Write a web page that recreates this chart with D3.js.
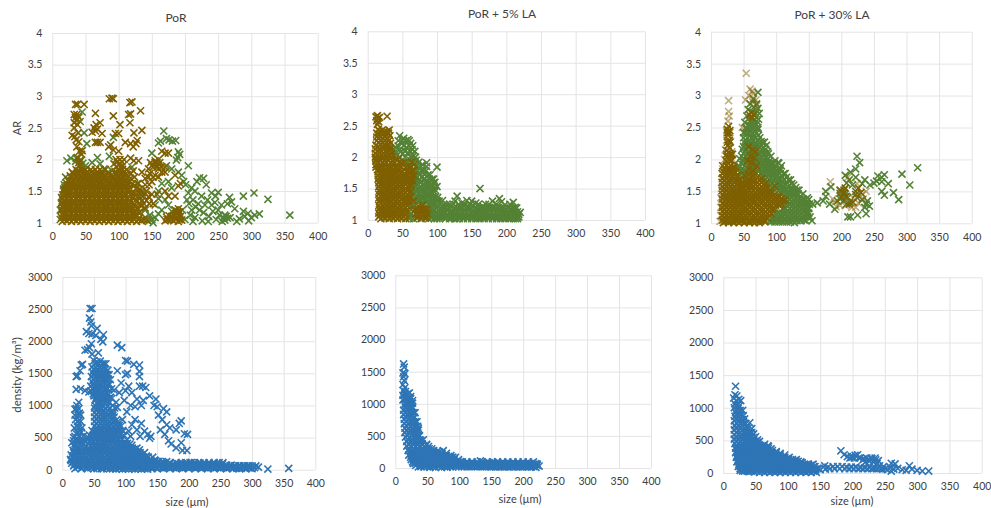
<!DOCTYPE html>
<html>
<head>
<meta charset="utf-8">
<script src="https://cdn.jsdelivr.net/npm/d3@7"></script>
<style>
  html, body { margin: 0; background: #fff; }
  text { font-family: Lato, "Open Sans", sans-serif; fill: #404040; }
</style>
</head>
<body>
<div id="chart"></div>
<script>
// tick labels
const sizeTicks = [0, 50, 100, 150, 200, 250, 300, 350, 400];
const arTicks = [1, 1.5, 2, 2.5, 3, 3.5, 4];
const densityTicks = [0, 500, 1000, 1500, 2000, 2500, 3000];
const titles = ['PoR', 'PoR + 5% LA', 'PoR + 30% LA'];

// top row: [size, AR]
const porGreen = [
  [168,2.45],[172,2.33],[176,2.31],[181,2.29],[186,2.3],[160,2.26],[163,2.29],[190,2.12],[192,2.08],[189,2.03],[187,1.99],[205,1.9],[190,1.8],[195,1.75],
  [198,1.65],[201,1.6],[222,1.71],[228,1.7],[218,1.65],[232,1.6],[210,1.55],[215,1.5],[205,1.47],[240,1.47],[250,1.48],[246,1.42],[267,1.4],[270,1.33],[264,1.3],
  [288,1.42],[304,1.47],[325,1.37],[358,1.12],[260,1.12],[262,1.1],[258,1.08],[264,1.07],[260,1.04],[256,1.02],[240,1.28],[234,1.36],[225,1.42],[212,1.36],[203,1.36],
  [206,1.3],[216,1.25],[222,1.2],[228,1.16],[208,1.12],[215,1.08],[200,1.05],[196,1.2],[236,1.1],[242,1.18],[250,1.2],[255,1.28],[247,1.05],[275,1.22],[282,1.06],[290,1.1],
  [288,1.18],[295,1.15],[300,1.08],[305,1.12],[312,1.14],[296,1.03],[278,1.02],[226,1.03],[235,1.02],[150,2.1],[158,1.95],[172,1.9],[180,1.85],[175,1.65],[165,1.62],
  [180,1.55],[160,1.5],[155,1.28],[165,1.2],[180,1.18],[185,1.2],[150,1.05],[152,1.0],[147,1.12],[140,1.2],[135,1.05],[128,1.62],[132,1.4],
  [22,1.98],[28,2.02],[35,1.97],[46,1.94],[44,1.88],[48,1.84],[40,1.82],[50,1.9],[43,2.0],[60,1.95],[68,2.03],[72,1.93],[78,1.85],[84,1.8],[90,1.82],[86,2.05],[92,2.35],[48,2.42],[52,2.25],
  [45,2.75],[42,2.6],[14,1.4],[12,1.2],[12,1.05],[14,1.3],[20,1.72],[18,1.6],[17,1.53],[36,2.02],[120,1.88],
  [145,1.02],[140,1.08],[155,1.08],[160,1.14],[170,1.36],[160,1.38],[175,1.28],[210,1.2],[220,1.3],[230,1.28],[245,1.32],[252,1.12],[268,1.08],[212,1.02]
];
const porBrown = [
  [15,1.02],[22,1.03],[29,1.02],[36,1.03],[43,1.02],[50,1.03],[57,1.02],[64,1.03],[71,1.02],[78,1.03],[85,1.02],[92,1.03],[99,1.02],[106,1.03],[113,1.02],[120,1.03],[127,1.02],[134,1.03],[143,1.04],[170,1.03],[176,1.05],[183,1.03],[190,1.02],[195,1.04],
  [14,1.08],[19,1.09],[26,1.08],[33,1.09],[40,1.08],[47,1.09],[54,1.08],[61,1.09],[68,1.08],[75,1.09],[82,1.08],[89,1.09],[96,1.08],[103,1.09],[110,1.08],[117,1.09],[124,1.1],[172,1.09],[180,1.1],[187,1.08],[193,1.1],
  [15,1.14],[22,1.15],[29,1.14],[36,1.15],[43,1.14],[50,1.15],[57,1.14],[64,1.15],[71,1.14],[78,1.15],[85,1.14],[92,1.15],[99,1.14],[106,1.15],[113,1.14],[120,1.15],[130,1.16],[187,1.14],[192,1.17],
  [14,1.2],[19,1.21],[26,1.2],[33,1.21],[40,1.2],[47,1.21],[54,1.2],[61,1.21],[68,1.2],[75,1.21],[82,1.2],[89,1.21],[96,1.2],[103,1.21],[110,1.2],[117,1.22],[190,1.22],[185,1.2],
  [15,1.26],[22,1.27],[29,1.26],[36,1.27],[43,1.26],[50,1.27],[57,1.26],[64,1.27],[71,1.26],[78,1.27],[85,1.26],[92,1.27],[99,1.26],[106,1.27],[113,1.28],[125,1.25],[135,1.27],
  [14,1.32],[19,1.33],[26,1.32],[33,1.33],[40,1.32],[47,1.33],[54,1.32],[61,1.33],[68,1.32],[75,1.33],[82,1.32],[89,1.33],[96,1.32],[103,1.33],[110,1.32],[118,1.33],[128,1.34],[142,1.35],
  [15,1.38],[22,1.39],[29,1.38],[36,1.39],[43,1.38],[50,1.39],[57,1.38],[64,1.39],[71,1.38],[78,1.39],[85,1.38],[92,1.39],[99,1.38],[106,1.39],[113,1.38],[122,1.4],[137,1.42],[175,1.42],[185,1.42],
  [16,1.44],[19,1.45],[26,1.44],[33,1.45],[40,1.44],[47,1.45],[54,1.44],[61,1.45],[68,1.44],[75,1.45],[82,1.44],[89,1.45],[96,1.44],[103,1.45],[110,1.44],[120,1.46],[130,1.48],[142,1.5],[170,1.5],
  [17,1.5],[22,1.51],[29,1.5],[36,1.51],[43,1.5],[50,1.51],[57,1.5],[64,1.51],[71,1.5],[78,1.51],[85,1.5],[92,1.51],[99,1.5],[106,1.51],[113,1.5],[127,1.55],[190,1.58],[193,1.62],
  [19,1.56],[26,1.57],[33,1.56],[40,1.57],[47,1.56],[54,1.57],[61,1.56],[68,1.57],[75,1.56],[82,1.57],[89,1.56],[96,1.57],[103,1.56],[110,1.57],[120,1.6],
  [22,1.62],[29,1.63],[36,1.62],[43,1.63],[50,1.62],[57,1.63],[64,1.62],[71,1.63],[78,1.62],[85,1.63],[92,1.62],[99,1.63],[106,1.62],[113,1.63],
  [24,1.68],[33,1.69],[40,1.68],[47,1.69],[54,1.68],[61,1.69],[68,1.68],[75,1.69],[82,1.68],[89,1.69],[96,1.68],[103,1.69],[110,1.68],[118,1.7],
  [27,1.74],[36,1.75],[43,1.74],[50,1.75],[57,1.74],[64,1.75],[71,1.74],[78,1.75],[92,1.74],[99,1.75],[106,1.74],[113,1.76],[124,1.72],
  [30,1.8],[38,1.81],[52,1.8],[60,1.81],[68,1.8],[75,1.8],[95,1.81],[102,1.82],[108,1.8],[122,1.82],
  [97,1.88],[101,1.92],[105,1.96],[98,1.96],[106,1.9],[93,1.93],[103,1.88],
  [40,1.9],[42,1.97],[38,2.03],[44,2.08],[41,2.13],[37,2.2],[45,2.14],[40,2.28],[36,2.31],[34,2.36],[30,2.38],[39,2.42],[33,2.5],[38,2.55],[33,2.58],[36,2.62],[40,2.67],[35,2.66],[33,2.71],[37,2.71],
  [35,2.87],[38,2.87],[48,2.87],[86,2.96],[90,2.97],[92,2.96],[117,2.9],[120,2.91],[65,2.73],[115,2.71],[118,2.72],[133,2.77],[92,2.69],[117,2.58],[72,2.58],[66,2.55],[63,2.5],[68,2.48],[65,2.45],[102,2.55],[135,2.46],[60,2.43],[123,2.42],[75,2.41],[95,2.41],[100,2.41],[128,2.3],
  [65,2.27],[68,2.27],[72,2.27],[88,2.23],[85,2.2],[110,2.27],[118,2.25],[122,2.2],[126,2.25],[92,2.15],[100,2.13],[118,2.02],[123,1.98],[130,1.98],[170,2.1],[175,2.1],[165,2.13],[155,1.98],[150,1.9],[145,1.85],[160,1.85],[165,1.8],[170,1.8],[155,1.75],[135,1.8],[140,1.7],[147,1.78],[158,1.9],[185,1.75],[150,1.65],[146,1.4],[130,1.62],[135,1.5]
];
// dense parts, one row per level: [AR, size, size, ...]
const porBrownRows = [
  [1.05,18,25,32,39,46,53,60,67,74,81,88,95,102,109,116,123,130,138,173,180,186,192],
  [1.11,17,24,31,38,45,52,59,66,73,80,87,94,101,108,115,122,128,176,183,190],
  [1.17,18,25,32,39,46,53,60,67,74,81,88,95,102,109,116,124,132,189],
  [1.23,17,24,31,38,45,52,59,66,73,80,87,94,101,108,115,122,128,140],
  [1.29,18,25,32,39,46,53,60,67,74,81,88,95,102,109,116,124,133],
  [1.35,17,24,31,38,45,52,59,66,73,80,87,94,101,108,115,125,135],
  [1.41,18,25,32,39,46,53,60,67,74,81,88,95,102,109,116,128,145],
  [1.47,20,24,31,38,45,52,59,66,73,80,87,94,101,108,115,124,136],
  [1.53,19,25,32,39,46,53,60,67,74,81,88,95,102,109,116,132],
  [1.59,22,30,37,44,51,58,65,72,79,86,93,100,107,114,124],
  [1.65,25,32,39,46,53,60,67,74,81,88,95,102,109,116],
  [1.71,29,36,43,50,57,64,71,78,85,92,99,106,113],
  [1.77,32,40,47,55,62,69,76,84,96,103,110,118],
  [1.84,36,44,50,58,65,72,80,100,106,112],
  [1.95,40,155,162,148],[1.88,152,165,158,170],[2.0,96,102,108,160],
  [1.3,138,146,152],[1.45,150,158],[1.6,140,146],[1.72,145,152,160]
];
const la5Green = [
  [46,2.34],[52,2.3],[58,2.28],[62,2.22],[50,2.22],[40,2.16],[46,2.12],[56,2.15],[64,2.12],[36,2.1],[42,2.03],[50,2.05],[58,2.07],[66,2.02],[62,1.95],[70,1.95],[55,1.92],
  [85,1.91],[79,1.88],[100,1.84],[73,1.85],[80,1.78],[87,1.72],[74,1.75],[67,1.8],[93,1.65],[97,1.6],[100,1.53],[92,1.55],[85,1.62],[78,1.68],[71,1.68],[66,1.6],[72,1.58],[80,1.56],[87,1.52],[95,1.46],[90,1.42],
  [66,1.5],[72,1.48],[79,1.46],[85,1.42],[65,1.4],[71,1.38],[78,1.36],[84,1.33],[91,1.34],[97,1.36],[103,1.3],[66,1.3],[72,1.28],[88,1.26],[95,1.26],[101,1.22],[108,1.2],[65,1.2],[90,1.18],[96,1.15],[102,1.15],[108,1.13],[90,1.1],[97,1.08],[104,1.06],[110,1.05],[92,1.03],[100,1.02],[60,1.05],[58,1.12],
  [114,1.25],[120,1.22],[126,1.3],[129,1.38],[136,1.27],[143,1.31],[150,1.3],[156,1.27],[162,1.5],[166,1.22],[175,1.25],[180,1.3],[190,1.34],[193,1.29],[198,1.24],[210,1.28],[213,1.2],[220,1.12],[218,1.05],
  [115,1.15],[121,1.13],[127,1.17],[133,1.2],[139,1.22],[146,1.2],[152,1.22],[158,1.18],[164,1.15],[170,1.18],[176,1.2],[182,1.2],[188,1.2],[194,1.18],[200,1.16],[206,1.18],[212,1.13],
  [113,1.07],[119,1.05],[125,1.08],[131,1.12],[137,1.13],[143,1.12],[149,1.13],[155,1.11],[161,1.08],[167,1.1],[173,1.12],[179,1.12],[185,1.12],[191,1.11],[197,1.1],[203,1.11],[209,1.08],[215,1.07],
  [121,1.03],[128,1.02],[135,1.05],[141,1.05],[147,1.06],[153,1.04],[159,1.03],[165,1.04],[171,1.05],[177,1.05],[183,1.05],[189,1.04],[195,1.03],[201,1.05],[207,1.03],[213,1.02]
];
const la5GreenRows = [
  [2.26,44,50,55,60],[2.18,44,52,60,65],[2.09,40,48,54,62,68],[2.0,46,54,62,69],[1.92,58,66,74],[1.85,62,69,77,85],[1.78,64,72,77,84],
  [1.72,68,75,82,90],[1.65,63,69,75,82,89,95],[1.59,62,69,76,83,89,95],[1.53,62,69,76,83,90,96],[1.47,62,69,76,83,90,98],[1.42,62,68,75,82,88,94],
  [1.36,62,68,74,81,87,94,101],[1.31,60,66,75,81,87,94,100,108],[1.25,60,66,82,92,98,104,110,118,124,131,140,148,160,170,186,205],
  [1.19,60,84,93,99,105,112,118,124,130,136,142,149,155,161,167,173,179,185,191,197,203,209,215],
  [1.13,60,86,93,99,105,111,118,124,130,136,142,148,154,160,166,172,178,184,190,196,202,208,216],
  [1.09,62,88,94,101,107,116,122,128,134,140,146,152,158,164,170,176,182,188,194,200,206,212,218],
  [1.05,86,93,100,107,114,125,131,138,144,150,156,162,168,174,180,186,192,198,204,210,216],
  [1.02,60,66,88,96,104,112,118,125,132,138,144,150,156,162,168,174,180,186,192,198,204,210,216]
];
const la5Brown = [
  [19,1.02],[25,1.03],[31,1.02],[37,1.03],[43,1.02],[49,1.03],[55,1.02],[71,1.03],[77,1.02],[83,1.03],
  [18,1.08],[24,1.09],[30,1.08],[36,1.09],[42,1.08],[48,1.09],[54,1.08],[69,1.1],[75,1.09],[81,1.08],[86,1.1],
  [19,1.14],[25,1.15],[31,1.14],[37,1.15],[43,1.14],[49,1.15],[55,1.14],[68,1.16],[74,1.16],[80,1.17],[85,1.16],
  [18,1.2],[24,1.21],[30,1.2],[36,1.21],[42,1.2],[48,1.21],[54,1.2],[73,1.22],[79,1.24],
  [19,1.26],[25,1.27],[31,1.26],[37,1.27],[43,1.26],[49,1.27],[55,1.28],[66,1.3],
  [18,1.32],[24,1.33],[30,1.32],[36,1.33],[42,1.32],[48,1.33],[54,1.32],[62,1.36],
  [19,1.38],[25,1.39],[31,1.38],[37,1.39],[43,1.38],[49,1.39],[55,1.38],
  [18,1.44],[24,1.45],[30,1.44],[36,1.45],[42,1.44],[48,1.45],[54,1.44],[62,1.45],
  [19,1.5],[25,1.51],[31,1.5],[37,1.51],[43,1.5],[49,1.51],[55,1.5],[63,1.55],
  [18,1.56],[24,1.57],[30,1.56],[36,1.57],[42,1.56],[48,1.57],[54,1.58],[60,1.62],[65,1.62],
  [17,1.62],[25,1.63],[31,1.62],[37,1.63],[43,1.62],[49,1.63],[54,1.66],[61,1.68],[67,1.7],
  [17,1.68],[23,1.69],[29,1.68],[35,1.69],[41,1.68],[47,1.69],[54,1.72],[60,1.76],[66,1.78],
  [17,1.74],[23,1.75],[29,1.74],[35,1.75],[41,1.74],[47,1.75],[53,1.8],[60,1.84],[67,1.88],[63,1.92],
  [14,1.8],[20,1.81],[26,1.8],[32,1.81],[38,1.8],[44,1.81],
  [12,1.88],[18,1.87],[24,1.88],[30,1.87],[36,1.88],[42,1.87],[48,1.9],
  [12,1.94],[18,1.95],[24,1.94],[30,1.95],[36,1.94],[44,1.96],
  [11,2.0],[17,2.01],[23,2.0],[29,2.01],[35,2.0],
  [11,2.06],[17,2.07],[23,2.06],[29,2.07],[35,2.06],
  [11,2.13],[17,2.12],[23,2.13],[29,2.12],[33,2.14],
  [12,2.19],[18,2.2],[24,2.19],[30,2.2],[33,2.22],
  [13,2.26],[19,2.27],[25,2.26],[31,2.27],
  [13,2.32],[19,2.33],[25,2.32],[32,2.34],
  [13,2.38],[19,2.38],[24,2.39],[30,2.38],
  [15,2.44],[21,2.43],[31,2.43],[28,2.41],
  [14,2.52],[13,2.58],[16,2.56],[12,2.64],[15,2.62],[17,2.63],[28,2.65],[14,2.66]
];
const la5BrownRows = [
  [1.05,16,22,28,34,40,46,52,72,78,84],[1.11,16,22,28,34,40,46,52,71,77,83],[1.17,17,22,28,34,40,46,52,71,77,83],[1.23,16,22,28,34,40,46,52,58],
  [1.29,17,22,28,34,40,46,52,59],[1.35,16,22,28,34,40,46,52,58],[1.41,16,22,28,34,40,46,52,58],[1.47,17,22,28,34,40,46,52,58],
  [1.53,16,22,28,34,40,46,52,58],[1.59,16,22,28,34,40,46,52,57],[1.65,15,21,27,33,39,45,51,58,64],[1.71,15,21,27,33,39,45,51,57,63],
  [1.77,15,20,26,32,38,44,50,57,63],[1.84,12,17,23,29,35,41,47,55],[1.91,15,21,27,33,39,45,52],[1.97,12,15,21,27,33,40],[2.03,14,20,26,32],
  [2.1,14,20,26,32],[2.16,15,21,27,31],[2.23,16,22,28],[2.3,16,22,28],[2.36,16,22,27],[2.41,17,24]
];
const la30Green = [
  [72,3.05],[65,2.95],[70,2.87],[60,2.87],[66,2.82],[72,2.8],[57,2.78],[63,2.75],[69,2.72],[74,2.72],[55,2.68],[60,2.66],[67,2.62],[73,2.63],[52,2.58],[58,2.55],[64,2.52],[70,2.55],[55,2.47],[61,2.45],[67,2.45],[72,2.47],[50,2.42],[60,2.38],[66,2.37],[73,2.38],
  [53,2.3],[59,2.28],[65,2.3],[71,2.3],[77,2.28],[82,2.27],[85,2.22],[50,2.2],[56,2.2],[62,2.22],[68,2.22],[74,2.2],[80,2.18],[87,2.12],[52,2.12],[58,2.12],[64,2.13],[70,2.13],[76,2.12],[82,2.1],[92,2.05],
  [47,2.05],[54,2.05],[60,2.05],[66,2.05],[72,2.05],[78,2.03],[84,2.02],[90,1.98],[98,1.98],[103,1.95],[50,1.97],[56,1.98],[62,1.97],[68,1.97],[74,1.97],[80,1.95],[86,1.95],[92,1.92],[98,1.9],[108,1.9],
  [42,1.9],[52,1.9],[58,1.9],[64,1.9],[70,1.9],[76,1.89],[82,1.88],[88,1.87],[94,1.85],[100,1.83],[106,1.83],[112,1.78],[46,1.82],[54,1.82],[60,1.83],[66,1.82],[72,1.82],[78,1.8],[84,1.8],[90,1.78],[96,1.77],[102,1.76],[108,1.74],[116,1.72],[122,1.68],
  [48,1.72],[80,1.73],[86,1.72],[92,1.71],[98,1.7],[104,1.68],[110,1.66],[116,1.64],[124,1.62],[130,1.56],[88,1.64],[94,1.63],[100,1.62],[106,1.6],[112,1.58],[118,1.57],[124,1.54],[132,1.52],
  [88,1.56],[94,1.56],[100,1.54],[106,1.53],[112,1.5],[118,1.48],[124,1.47],[130,1.46],[112,1.43],[118,1.41],[124,1.4],[130,1.39],[136,1.38],[142,1.38],[148,1.4],[146,1.33],
  [118,1.34],[124,1.33],[130,1.32],[136,1.31],[142,1.31],[148,1.29],[118,1.27],[124,1.26],[130,1.25],[136,1.25],[142,1.24],[147,1.24],[112,1.22],[118,1.2],[124,1.2],[130,1.19],[136,1.18],[142,1.18],[147,1.17],
  [100,1.14],[106,1.13],[112,1.14],[118,1.13],[124,1.13],[130,1.12],[136,1.12],[142,1.11],[148,1.1],[95,1.07],[101,1.06],[107,1.07],[113,1.06],[119,1.07],[125,1.06],[131,1.06],[137,1.05],[143,1.05],[155,1.04],[92,1.02],[98,1.02],[104,1.02],[110,1.02],[116,1.02],[122,1.02],[128,1.01],
  [156,1.3],[163,1.32],[172,1.35],[176,1.42],[176,1.5],[184,1.57],[182,1.3],[190,1.22],[194,1.35],[198,1.47],[204,1.52],[200,1.42],[206,1.42],[203,1.35],[208,1.3],[210,1.1],[214,1.1],[213,1.33],[208,1.63],[206,1.75],[214,1.8],[212,1.68],[222,1.72],
  [222,1.85],[224,2.05],[228,1.95],[217,1.6],[222,1.5],[232,1.62],[236,1.68],[224,1.4],[232,1.37],[238,1.3],[240,1.35],[236,1.25],[225,1.13],[238,1.15],[244,1.6],[250,1.63],[254,1.66],[256,1.74],[262,1.72],[266,1.76],[262,1.65],[272,1.62],[262,1.5],[266,1.44],[280,1.48],[288,1.37],
  [293,1.77],[305,1.6],[317,1.87],[243,1.27],[200,1.5],[205,1.45],[198,1.38],[210,1.4]
];
const la30GreenRows = [
  [2.6,60,64,70],[2.5,54,60,66,72],[2.41,53,58,64,70],[2.34,50,56,62,68,75],[2.26,52,56,62,68,74,79],[2.16,48,54,60,66,72,78,84],[2.09,50,56,62,68,74,80,88],[2.01,44,50,57,63,69,75,81,87],
  [1.94,46,55,61,67,73,79,85,91,97,104],[1.86,42,48,56,62,68,74,80,86,92,98,106],[1.78,46,52,58,64,70,76,82,88,94,100,106,114],[1.68,46,83,89,95,101,107,113,119],
  [1.6,46,86,91,97,103,109,115,121,127],[1.52,92,98,104,110,116,122,128,135],[1.46,90,108,115,121,127,134,141],[1.37,110,115,121,127,133,139,145,150],[1.3,112,121,127,133,139,145,151],
  [1.23,98,110,115,121,127,133,139,145,150],[1.16,98,104,110,115,121,127,133,139,145,150],[1.1,90,97,103,109,115,121,127,133,139,145,152],[1.04,84,90,96,102,108,114,120,126,132,138,146]
];
const la30BrownFaint = [
  [27,2.92],[27,2.75],[28,2.68],[26,2.6],[24,2.45],[29,2.42],[24,2.3],[30,2.28],[22,2.15],[32,2.12],[21,2.0],[33,2.0],[18,1.85],[35,1.9],[17,1.7],[16,1.55],[15,1.4],[15,1.25],[15,1.12],[14,1.03],
  [54,3.35],[60,3.1],[63,3.07],[58,3.0],[65,3.03],[69,2.93],[53,2.93],[70,2.85],[64,2.9],[48,2.5],
  [183,1.65],[192,1.26],[187,1.38],[210,1.72],[216,1.25],[222,1.25],[238,1.5],[232,1.45],[224,1.62],[190,1.33],[198,1.28],[218,1.4],[226,1.32],[234,1.38],[206,1.28]
];
const la30BrownCore = [
  [27,2.52],[25,2.47],[29,2.45],[26,2.38],[28,2.3],[26,2.22],[29,2.18],[24,2.14],[27,2.1],[31,2.08],[25,2.04],[28,2.0],[62,2.73],[65,2.7],[59,2.7],[63,2.65],[58,2.2],[64,2.15],[68,2.12],[60,2.05],[66,2.03],[56,1.98],[62,1.95],[70,1.9],[58,1.85],[65,1.82],
  [18,1.9],[24,1.91],[30,1.9],[36,1.88],[22,1.84],[28,1.84],[34,1.83],[17,1.78],[23,1.77],[29,1.78],[35,1.77],[41,1.75],[18,1.71],[24,1.71],[30,1.7],[36,1.71],[42,1.68],[52,1.75],[58,1.76],[64,1.75],[72,1.72],[78,1.7],
  [17,1.64],[23,1.64],[29,1.65],[35,1.64],[41,1.63],[47,1.64],[53,1.66],[59,1.67],[65,1.66],[71,1.65],[77,1.64],[84,1.63],[18,1.58],[24,1.57],[30,1.58],[36,1.57],[42,1.58],[48,1.56],[54,1.59],[60,1.59],[66,1.58],[72,1.58],[78,1.57],[84,1.56],[98,1.58],
  [17,1.51],[23,1.51],[29,1.51],[35,1.5],[41,1.51],[47,1.5],[53,1.52],[59,1.52],[65,1.51],[71,1.51],[77,1.5],[83,1.5],[89,1.48],[18,1.45],[24,1.44],[30,1.45],[36,1.44],[42,1.45],[48,1.44],[54,1.45],[60,1.45],[66,1.44],[72,1.44],[78,1.44],[84,1.44],[90,1.44],[96,1.43],[102,1.42],
  [17,1.38],[23,1.38],[29,1.38],[35,1.37],[41,1.38],[47,1.37],[53,1.38],[59,1.38],[65,1.37],[71,1.38],[77,1.37],[83,1.38],[89,1.37],[95,1.37],[101,1.37],[108,1.38],[114,1.36],[18,1.32],[24,1.31],[30,1.32],[36,1.31],[42,1.32],[48,1.31],[54,1.32],[60,1.31],[66,1.32],[72,1.31],[78,1.32],[84,1.31],[90,1.31],[96,1.3],[102,1.3],[108,1.3],
  [17,1.25],[23,1.25],[29,1.25],[35,1.24],[41,1.25],[47,1.24],[53,1.25],[59,1.25],[65,1.24],[71,1.25],[77,1.24],[83,1.25],[89,1.24],[95,1.23],[18,1.19],[24,1.18],[30,1.19],[36,1.18],[42,1.19],[48,1.18],[54,1.19],[60,1.18],[66,1.19],[72,1.18],[78,1.19],[84,1.18],[90,1.18],
  [17,1.12],[23,1.12],[29,1.12],[35,1.11],[41,1.12],[47,1.11],[53,1.12],[59,1.12],[65,1.11],[71,1.12],[77,1.11],[83,1.11],[18,1.05],[24,1.05],[30,1.06],[36,1.05],[42,1.06],[48,1.05],[54,1.06],[60,1.05],[66,1.06],[72,1.05],[78,1.05],[19,1.01],[27,1.01],[35,1.01],[43,1.01],[51,1.01],[59,1.01],[67,1.01],[74,1.01],
  [198,1.52],[204,1.48],[200,1.4],[208,1.42],[212,1.3],[218,1.33],[226,1.55],[230,1.48],[222,1.45],[206,1.55]
];
const la30BrownRows = [
  [1.87,21,27,33],[1.8,20,26,32,38],[1.74,21,27,33,39],[1.67,20,26,32,38,56,62,68],[1.61,21,27,33,39,45,50,56,62,68,74,81],[1.54,20,26,32,38,44,50,56,62,68,74,80,86],
  [1.48,21,27,33,39,45,51,57,63,69,75,81,87,93],[1.41,20,26,32,38,44,50,56,62,68,74,80,86,92,99,105],[1.35,21,27,33,39,45,51,57,63,69,75,81,87,93,99,105,112],
  [1.28,20,26,32,38,44,50,56,62,68,74,80,86,92,99,105],[1.22,21,27,33,39,45,51,57,63,69,75,81,87,93],[1.15,20,26,32,38,44,50,56,62,68,74,80,86,92],
  [1.09,21,27,33,39,45,51,57,63,69,75,81,86],[1.03,22,28,34,40,46,52,58,64,70,76,82],[2.27,25,29],[2.42,27,25],[2.08,24,29,33],[1.98,23,29,32]
];

// bottom row: [size, density]
const porBlue = [
  [44,2510],[47,2510],[43,2360],[45,2300],[46,2240],[38,2150],[42,2120],[47,2110],[55,2200],[53,2090],[65,2100],[61,2030],[64,1990],[36,1860],[43,1900],[46,1960],[40,1870],[57,1820],[47,1800],
  [87,1940],[94,1900],[100,1700],[103,1690],[113,1640],[122,1630],[87,1540],[122,1530],[100,1480],[103,1500],[122,1450],[122,1300],[127,1300],[132,1280],[138,1150],[148,1100],[150,980],[160,950],[165,900],[145,1000],[152,850],[158,780],[165,700],[170,650],[180,620],[188,760],[185,720],[193,560],[198,550],[190,300],[197,300],[188,420],[172,400],[168,450],[180,340],[162,550],[155,620],
  [105,1300],[93,1350],[100,1230],[110,1200],[118,1100],[108,1000],[98,1080],[90,1200],[85,1050],[115,980],[128,1080],[125,1000],[102,900],[115,780],[125,720],[110,700],[105,600],[118,620],[130,600],[135,550],[140,520],[123,520],[108,520],[138,490],
  [22,1450],[24,1460],[30,1630],[32,1640],[28,1540],[22,1250],[29,1260],[36,1230],[42,1210],[26,1050],[23,1000],[20,940],[27,880],[21,780],[27,770],[24,680],[28,600],[22,560],[18,500],[24,470],[30,420],[15,420],[19,360],[24,330],
  [50,1700],[55,1680],[60,1690],[66,1650],[72,1550],[47,1600],[53,1600],[59,1600],[65,1580],[71,1480],[48,1520],[54,1520],[60,1520],[66,1500],[76,1400],[46,1450],[52,1440],[58,1440],[64,1430],[70,1400],[47,1370],[53,1370],[59,1360],[65,1360],[72,1320],[45,1300],[51,1290],[57,1290],[63,1290],[69,1270],[82,1240],
  [46,1220],[52,1220],[58,1220],[64,1210],[70,1190],[50,1150],[56,1150],[62,1140],[68,1130],[76,1130],[52,1080],[58,1070],[64,1070],[70,1060],[80,1000],[52,1000],[58,1000],[64,990],[72,990],[87,970],[54,930],[60,930],[66,920],[72,920],[78,900],[54,860],[60,860],[66,850],[72,850],[80,850],
  [54,790],[60,790],[66,790],[72,780],[78,780],[84,760],[95,780],[54,720],[60,720],[66,720],[72,710],[78,710],[84,700],[90,690],[54,650],[60,650],[66,650],[72,640],[78,640],[84,630],[90,620],[96,600],[50,580],[56,580],[62,580],[68,570],[74,570],[80,560],[86,560],[92,550],
  [40,510],[46,510],[52,510],[58,510],[64,500],[70,500],[76,500],[82,490],[88,480],[94,470],[37,440],[43,440],[49,440],[55,440],[61,440],[67,430],[73,430],[79,420],[85,420],[91,410],[97,410],[103,410],[110,380],
  [17,300],[24,300],[31,300],[38,300],[45,370],[52,370],[59,370],[66,360],[73,360],[80,350],[87,350],[94,340],[101,340],[108,330],[115,320],[122,310],
  [14,230],[21,230],[28,230],[35,230],[42,300],[49,300],[56,300],[63,290],[70,290],[77,280],[84,280],[91,270],[98,270],[105,260],[112,250],[119,240],[126,230],[133,210],
  [13,160],[20,160],[27,160],[34,160],[41,160],[48,230],[55,230],[62,220],[69,220],[76,210],[83,210],[90,200],[97,200],[104,190],[111,180],[118,170],[125,170],[132,160],[139,160],[146,150],[153,130],
  [15,100],[22,90],[29,90],[36,90],[43,90],[50,150],[57,160],[64,150],[71,150],[78,140],[85,140],[92,130],[99,130],[106,120],[113,110],[120,110],[127,100],[134,100],[141,100],[148,90],[155,90],[162,90],[169,80],[176,80],[183,90],[190,90],[197,100],[204,110],[211,90],[218,100],[225,90],[232,90],[239,90],[246,90],[253,90],[260,70],[267,70],[274,60],[281,60],[288,60],[295,60],
  [24,40],[31,30],[38,30],[45,30],[52,80],[59,80],[66,80],[73,80],[80,70],[87,70],[94,60],[101,60],[108,60],[115,50],[122,50],[129,40],[136,40],[143,30],[150,30],[157,30],[164,30],[171,30],[178,30],[185,30],[192,30],[199,40],[206,40],[213,30],[220,40],[227,30],[234,30],[241,30],[248,30],[255,30],[262,30],[269,20],[276,20],[283,20],[290,20],[297,25],[304,30],
  [55,15],[65,15],[75,15],[85,10],[95,10],[105,10],[115,10],[125,10],[135,10],[310,40],[325,10],[358,20]
];
// dense parts, one row per level: [density, size, size, ...]
const porBlueRows = [
  [1650,52,58,63,69],[1560,50,56,62,68],[1480,50,56,62,68,74],[1410,49,55,61,67,73],[1330,50,56,62,68,75],[1260,48,54,60,66,72,78],[1180,49,55,61,67,73],[1110,53,59,65,71,78],[1040,55,61,67,74],
  [960,51,56,62,68,75,83],[890,51,57,63,69,75,81],[820,51,57,63,69,76,82],[750,51,57,63,69,75,81,88],[680,51,57,63,69,75,81,87,93],[610,47,53,59,65,71,77,83,89,95],[540,43,49,55,61,67,73,79,85,91,97],
  [950,22,26],[850,20,25,29],[750,24,29],[650,19,26,31],[580,24,30],[520,20,26,33],[450,18,24,30,36],
  [470,41,47,53,59,65,71,77,83,89,95,102],[400,20,27,34,41,47,53,59,65,71,77,83,89,95,100,107],[335,21,28,35,42,49,55,62,69,76,83,90,97,104,111,118],
  [265,18,25,32,39,46,53,60,67,74,81,88,95,102,109,116,123,130],[195,16,24,31,38,45,52,59,66,73,80,87,94,101,108,115,122,129,136,143],
  [125,17,24,31,38,45,53,60,67,74,81,88,95,102,109,116,123,130,137,144,151,158,165],[60,18,25,33,40,48,55,62,69,76,83,90,97,104,111,118,125,132,139,146,153,160,167,174,181,188,195,202,209,216,223,230,237,244,251,258,265,272,279,286,293,300,306],
  [110,160,170,180,188,195,202,209,216,224,232,240,248,254],[15,20,30,40,50,62,70,80,90,100,110,120,130,142,150,160,170,180,190,200,210,220,230,240,250,260,270,280,290,300],
  [282,21,28,35,42,49,56,63,70,77,84,91,98,105,112,119],[212,17,21,28,35,42,49,56,63,70,77,84,91,98,105,112,119,126,133],[142,14,21,28,35,42,49,56,63,70,77,84,91,98,105,112,119,126,133,140,147],
  [78,19,28,35,42,49,56,63,70,77,84,91,98,105,112,119,126,133,140,147,154,161,168,175,182,189,196,203,210,217,224,231,238,245,252],[40,48,56,63,70,77,84,91,98,105,112,119,126,133,140,147,154,161,168,175,182,189,196,203,210,217,224,231,238,245,252,259,266,273,280,287,294]
];
const la5Blue = [
  [13,1620],[14,1570],[12,1480],[15,1470],[13,1420],[14,1360],[12,1300],[15,1250],[13,1200],[16,1190],[22,1170],[24,1110],[18,1140],[12,1130],[21,1100],[27,1050],[25,1000],[16,1070],[12,1060],[20,1040],[14,980],[18,980],[24,950],[13,900],[19,900],[25,880],[29,860],[13,830],[18,830],[24,810],[30,790],
  [14,760],[20,760],[26,740],[32,720],[14,690],[20,690],[26,670],[32,650],[36,620],[15,620],[21,610],[27,600],[33,590],[15,550],[21,540],[27,530],[33,520],[38,500],[16,480],[22,470],[28,470],[34,460],[40,430],[18,410],[24,400],[30,400],[36,400],[42,380],[49,360],
  [18,340],[25,330],[32,330],[39,330],[46,320],[53,300],[60,270],[20,270],[27,260],[34,260],[41,260],[48,260],[55,250],[62,240],[69,250],[75,270],[21,200],[28,200],[35,190],[42,190],[49,190],[56,190],[63,190],[70,190],[77,190],[84,180],[90,170],[25,130],[32,130],[39,130],[46,120],[53,120],[60,120],[67,120],[74,120],[81,120],[88,120],[95,100],[102,100],
  [28,70],[35,70],[42,70],[49,60],[56,60],[63,60],[70,60],[77,60],[84,60],[91,60],[98,60],[105,70],[112,60],[119,70],[126,70],[133,110],[140,70],[147,80],[154,80],[161,70],[168,70],[175,70],[182,70],[189,60],[196,60],[203,60],[210,50],[217,60],[222,60],
  [36,15],[45,15],[54,10],[63,10],[72,10],[81,10],[90,15],[99,20],[108,20],[115,20],[122,25],[129,20],[136,20],[143,20],[150,15],[157,15],[164,15],[171,15],[178,15],[185,15],[192,15],[199,15],[206,15],[213,15],[220,10],[225,30]
];
const la5BlueRows = [
  [1150,15,19],[1080,14,19,24],[1010,16,22,27],[940,16,21,27],[860,16,22,27,31],[790,17,23,29],[720,17,23,29,34],[650,18,24,30,35],[590,18,24,30,36],[510,19,25,31,37],
  [440,20,26,32,38,44],[370,21,28,35,42,49],[300,22,29,36,43,50,57],[230,24,31,38,45,52,59,66,73,80],[165,24,31,38,45,52,59,66,73,80,87,94],
  [95,27,34,41,48,55,62,69,76,83,90,98,105,112,120,128,136,144,152,160,168,176,184,192,200,208,216],
  [40,32,39,46,53,60,67,74,81,88,95,102,109,116,123,130,137,144,151,158,165,172,179,186,193,200,207,214,222],
  [335,24,31,38,45,52],[265,24,31,38,45,52,59,66],[195,25,31,38,45,52,59,66,73,80,87],[130,29,36,43,50,57,64,71,78,85,92,99],
  [70,31,38,45,52,59,66,73,80,87,94,101,108,115,122,129,136,143,150,157,164,171,178,185,192,199,206,213,220],[20,40,50,59,68,77,86,95,104,112,119,126,133,140,147,154,161,168,175,182,189,196,203,210,217]
];
const la30Blue = [
  [19,1330],[18,1200],[21,1180],[16,1150],[24,1130],[27,1110],[20,1110],[18,1060],[22,1040],[17,1000],[23,990],[19,930],[25,920],[31,880],[18,870],[24,860],[30,820],[17,800],[23,790],[29,780],[35,760],[41,770],[18,730],[24,720],[30,720],[36,700],[44,680],[17,660],[23,650],[29,650],[35,640],[41,620],[47,600],
  [17,590],[23,590],[29,580],[35,570],[41,560],[47,540],[53,510],[17,520],[23,520],[29,510],[35,500],[41,490],[47,480],[53,470],[64,440],[70,410],[18,450],[24,450],[30,440],[36,430],[42,420],[48,410],[54,400],[60,390],[66,380],[74,370],[19,380],[25,380],[31,370],[37,360],[43,350],[49,340],[55,330],[61,330],[67,320],[73,310],[82,330],[88,300],
  [19,310],[25,310],[31,300],[37,290],[43,280],[49,270],[55,260],[61,260],[67,250],[73,250],[79,240],[85,240],[92,240],[99,220],[20,240],[26,240],[32,230],[38,220],[44,210],[50,200],[56,190],[62,190],[68,180],[74,180],[80,180],[86,170],[92,170],[98,170],[104,190],[110,190],[116,180],[122,160],
  [21,170],[27,170],[33,160],[39,150],[45,140],[51,130],[57,120],[63,120],[69,110],[75,110],[81,110],[87,110],[93,110],[99,110],[105,120],[111,120],[117,110],[123,110],[129,120],[136,120],[142,100],[23,100],[29,100],[35,90],[41,80],[47,70],[53,60],[59,60],[65,60],[71,50],[77,50],[83,50],[89,50],[95,50],[101,60],[107,60],[113,50],[119,50],[125,60],[131,60],[137,60],[143,60],[148,70],
  [26,40],[33,30],[40,20],[48,15],[56,10],[64,10],[72,10],[80,10],[88,10],[96,10],[104,10],[112,10],[120,10],[128,10],[136,10],[144,10],
  [157,110],[162,90],[170,100],[177,100],[184,100],[191,90],[198,90],[205,90],[212,80],[219,80],[226,80],[233,70],[240,70],[247,60],[254,50],[260,30],[150,50],[158,60],
  [182,340],[187,280],[192,250],[198,260],[204,270],[208,280],[199,240],[212,230],[218,220],[224,210],[230,220],[236,200],[240,190],[226,180],[232,170],[238,150],[216,200],[220,170],
  [260,150],[266,140],[270,70],[277,50],[288,110],[292,60],[300,40],[308,30],[318,30],[283,40],[264,60],[258,90],[248,100],[242,110]
];
const la30BlueRows = [
  [1030,20,25],[960,20,26,30],[890,21,27],[830,20,26,33],[760,21,26,32],[690,20,27,33,39],[620,20,26,32,38,44],[555,20,26,32,38,44,50],[485,20,26,32,38,44,50,56],
  [415,21,27,33,39,45,51,57,63,69],[345,21,28,34,40,46,52,58,64,70,76],[275,22,28,34,40,46,52,58,64,70,76,82,88,95],[205,23,29,35,41,47,53,59,65,71,77,83,89,95,101,107,113],
  [135,24,30,36,42,48,54,60,66,72,78,84,90,96,102,108,114,120,126,132,139],[70,26,32,38,44,50,56,62,68,74,80,86,92,98,104,110,116,122,128,134,140,146],
  [30,30,37,44,52,60,68,76,84,92,100,108,116,124,132,140],[65,165,172,180,188,195,202,209,216,223,230,237,244,251],[230,196,203,210,222,229,235],
  [380,22,28,34,40,46,52,58,64,70],[310,22,28,34,40,46,52,58,64,70,76,82],[240,23,29,35,41,47,53,59,65,71,77,83,89,95,102],[170,24,30,36,42,48,54,60,66,72,78,84,90,96,102,108,114,120],
  [100,26,32,38,44,50,56,62,68,74,80,86,92,98,104,110,116,122,128,134,140],[50,29,35,41,47,53,59,65,71,77,83,89,95,101,107,113,119,125,131,137,143]
];

const gridColor = '#e4e4e4';
const green = '#548235', brown = '#7f6000', blue = '#2e75b6';

// [level, size, size, ...] -> [size, level]
const fromRows = rows => rows.flatMap(r => r.slice(1).map(x => [x, r[0]]));

// plot areas
const panels = [
  { left: 52.3, right: 317.7, top: 33, bottom: 222.7, ticks: arTicks, domain: [1, 4], series: [[porGreen, green, 1], [porBrown.concat(fromRows(porBrownRows)), brown, 1]], title: titles[0], titleX: 176, titleY: 18 },
  { left: 367.7, right: 645, top: 31.3, bottom: 220, ticks: arTicks, domain: [1, 4], series: [[la5Green.concat(fromRows(la5GreenRows)), green, 1], [la5Brown.concat(fromRows(la5BrownRows)), brown, 1]], title: titles[1], titleX: 502, titleY: 14 },
  { left: 711, right: 971.7, top: 31.7, bottom: 223.3, ticks: arTicks, domain: [1, 4], series: [[la30Green.concat(fromRows(la30GreenRows)), green, 1], [la30BrownFaint, brown, 0.5], [la30BrownCore.concat(fromRows(la30BrownRows)), brown, 1]], title: titles[2], titleX: 832, titleY: 15 },
  { left: 62.3, right: 315.3, top: 277, bottom: 469.7, ticks: densityTicks, domain: [0, 3000], series: [[porBlue.concat(fromRows(porBlueRows)), blue, 1]], xLabelX: 187, xLabelY: 502 },
  { left: 395.3, right: 651, top: 275.3, bottom: 468, ticks: densityTicks, domain: [0, 3000], series: [[la5Blue.concat(fromRows(la5BlueRows)), blue, 1]], xLabelX: 520, xLabelY: 499 },
  { left: 723.3, right: 981.7, top: 277.3, bottom: 473, ticks: densityTicks, domain: [0, 3000], series: [[la30Blue.concat(fromRows(la30BlueRows)), blue, 1]], xLabelX: 852, xLabelY: 501 }
];

const svg = d3.select('#chart').append('svg')
  .attr('width', 991)
  .attr('height', 508)
  .style('display', 'block');

const marker = d3.symbol().type(d3.symbolX).size(34)();

panels.forEach(p => {
  const xScale = d3.scaleLinear().domain([0, 400]).range([p.left, p.right]);
  const yScale = d3.scaleLinear().domain(p.domain).range([p.bottom, p.top]);

  const xAxis = d3.axisBottom(xScale).tickValues(sizeTicks).tickSize(p.top - p.bottom).tickPadding(0).tickSizeOuter(0);
  const yAxis = d3.axisLeft(yScale).tickValues(p.ticks).tickSize(p.left - p.right).tickPadding(0).tickSizeOuter(0).tickFormat(d => d);

  const xGroup = svg.append('g').attr('transform', `translate(0, ${p.bottom})`).call(xAxis);
  const yGroup = svg.append('g').attr('transform', `translate(${p.left}, 0)`).call(yAxis);

  [xGroup, yGroup].forEach(g => {
    g.select('.domain').remove();
    g.selectAll('line').attr('stroke', gridColor).attr('stroke-width', 1);
    g.selectAll('text').style('font-size', '10.5px').style('font-family', 'Lato').attr('fill', '#404040');
  });
  // grid lines grow upward/rightward, so labels have to be put back by hand
  xGroup.selectAll('text').attr('y', 10).attr('dy', '0.71em');
  yGroup.selectAll('text').attr('x', -10);

  p.series.forEach(([points, color, opacity]) => {
    svg.append('g')
      .selectAll('path')
      .data(points)
      .enter()
      .append('path')
      .attr('d', marker)
      .attr('transform', d => `translate(${xScale(d[0])}, ${yScale(d[1])})`)
      .attr('fill', 'none')
      .attr('stroke', color)
      .attr('stroke-width', 1.6)
      .attr('opacity', opacity);
  });

  if (p.title) {
    svg.append('text').attr('x', p.titleX).attr('y', p.titleY).attr('dy', '0.35em')
      .attr('text-anchor', 'middle').style('font-size', '12px').text(p.title);
  }
  if (p.xLabelX) {
    svg.append('text').attr('x', p.xLabelX).attr('y', p.xLabelY).attr('dy', '0.35em')
      .attr('text-anchor', 'middle').style('font-size', '11px').text('size (µm)');
  }
});

svg.append('text')
  .attr('transform', 'translate(17, 128) rotate(-90)')
  .attr('text-anchor', 'middle').attr('dy', '0.35em')
  .style('font-size', '11px').text('AR');

svg.append('text')
  .attr('transform', 'translate(17, 375) rotate(-90)')
  .attr('text-anchor', 'middle').attr('dy', '0.35em')
  .style('font-size', '11.5px').text('density (kg/m³)');
</script>
</body>
</html>
